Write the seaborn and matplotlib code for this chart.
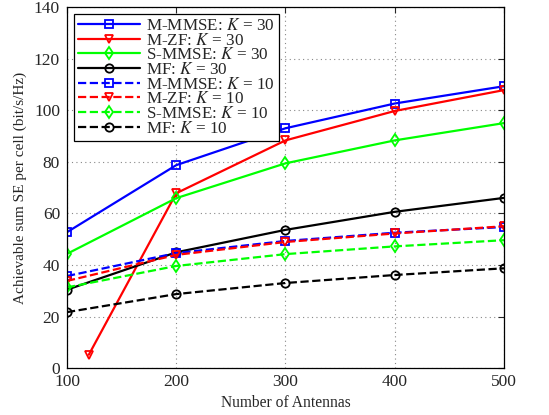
import matplotlib
matplotlib.use("Agg")
import matplotlib.pyplot as plt
import seaborn as sns
import pandas as pd

antennas = [100, 200, 300, 400, 500]
antennas_mzf30 = [120, 200, 300, 400, 500]

mmmse_30 = [52.7, 78.7, 93.0, 102.6, 109.3]
mzf_30 = [5.2, 67.8, 88.3, 99.7, 107.8]
smmse_30 = [44.3, 65.9, 79.4, 88.3, 95.0]
mf_30 = [30.4, 44.9, 53.6, 60.6, 66.0]
mmmse_10 = [35.7, 44.6, 49.3, 52.5, 54.7]
mzf_10 = [33.8, 43.9, 48.9, 52.2, 55.0]
smmse_10 = [31.3, 39.6, 44.2, 47.2, 49.6]
mf_10 = [21.7, 28.7, 33.0, 36.1, 38.7]

series = [
    ("M-MMSE: $K$ = 30", antennas, mmmse_30, "#0000ff", "s", "-"),
    ("M-ZF: $K$ = 30", antennas_mzf30, mzf_30, "#ff0000", "v", "-"),
    ("S-MMSE: $K$ = 30", antennas, smmse_30, "#00ff00", "d", "-"),
    ("MF: $K$ = 30", antennas, mf_30, "#000000", "o", "-"),
    ("M-MMSE: $K$ = 10", antennas, mmmse_10, "#0000ff", "s", "--"),
    ("M-ZF: $K$ = 10", antennas, mzf_10, "#ff0000", "v", "--"),
    ("S-MMSE: $K$ = 10", antennas, smmse_10, "#00ff00", "d", "--"),
    ("MF: $K$ = 10", antennas, mf_10, "#000000", "o", "--"),
]

sns.set_style("white")
plt.rcParams["font.family"] = ["Liberation Serif", "DejaVu Serif"]
plt.rcParams["mathtext.fontset"] = "stix"

fig = plt.figure(figsize=(5.49, 4.15), dpi=100)
ax = fig.add_axes([0.122, 0.113, 0.796, 0.870])

for label, xs, ys, color, marker, ls in series:
    df = pd.DataFrame({"x": xs, "y": ys})
    sns.lineplot(data=df, x="x", y="y", ax=ax, color=color, linestyle=ls,
                 marker=marker, markersize=6, markerfacecolor="none",
                 markeredgecolor=color, markeredgewidth=1.3, linewidth=1.6,
                 label=label)

ax.set_xlim(100, 500)
ax.set_ylim(0, 140)
ax.set_xticks([100, 200, 300, 400, 500])
ax.set_yticks(range(0, 141, 20))
ax.grid(True, linestyle=(0, (1, 3)), color="#888888", linewidth=0.8)
ax.tick_params(direction="in", labelsize=12.5, length=4, top=True, right=True)
ax.tick_params(axis="x", pad=4)
ax.tick_params(axis="y", pad=5)
for s in ax.spines.values():
    s.set_visible(True)
    s.set_color("black")
    s.set_linewidth(0.9)
ax.set_xlabel("Number of Antennas", fontsize=11.2, labelpad=4)
ax.set_ylabel("Achievable sum SE per cell (bit/s/Hz)", fontsize=11, labelpad=5)

leg = ax.legend(loc="upper left", fontsize=12.3, labelspacing=-0.08,
                handlelength=3.6, handletextpad=0.4, borderpad=0.25,
                fancybox=False, framealpha=1, edgecolor="black",
                borderaxespad=0.4)
leg.get_frame().set_linewidth(0.9)

fig.savefig("out.png", dpi=100)
